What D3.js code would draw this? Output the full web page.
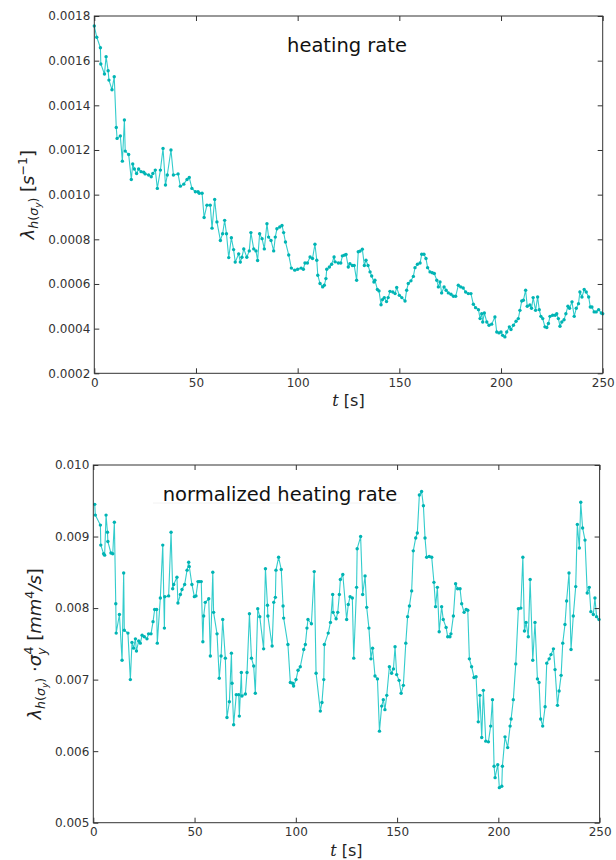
<!DOCTYPE html>
<html>
<head>
<meta charset="utf-8">
<script src="https://cdn.jsdelivr.net/npm/d3@7"></script>
<style>
  body { margin: 0; background: #fff; }
  svg text { font-family: "DejaVu Sans", sans-serif; }
</style>
</head>
<body>
<div id="chart"></div>
<script>
const xTicks = [0, 50, 100, 150, 200, 250];
const rateTicks = [0.0002, 0.0004, 0.0006, 0.0008, 0.001, 0.0012, 0.0014, 0.0016, 0.0018];
const normTicks = [0.005, 0.006, 0.007, 0.008, 0.009, 0.01];

// heating rate, [t (s), value in 1e-4 s^-1]
const heatingRate = [
  [0,17.55],[1.2,17.05],[3,16.58],[3.2,15.85],[5,15.4],[5.8,16.18],[6.8,15.55],[7.2,15.13],[8.7,14.7],[9.8,15.28],
  [10.8,13.01],[11.2,12.52],[12.8,12.63],[13.8,11.5],[14.8,13.34],[15.2,11.95],[16.9,11.8],[18.2,10.68],[18.9,11.37],[19.7,11.15],
  [20.8,10.95],[21.8,11.15],[23,11.03],[24.3,11.0],[25,10.93],[26.7,10.88],[28,10.8],[28.8,10.95],[30,11.1],[31,10.28],
  [32.5,11.1],[33.8,12.07],[35,10.43],[35.9,10.88],[37.7,12.0],[38.9,10.88],[41.2,10.93],[42.3,10.38],[44,10.47],[45.6,10.68],
  [46.7,10.77],[48,10.28],[49.7,10.13],[51,10.13],[51.6,10.06],[53,10.06],[54,8.98],[55.4,9.53],[57,9.53],[57.9,8.5],
  [59.2,9.78],[60.3,8.78],[62,7.95],[63.1,8.25],[64.1,8.85],[65,8.25],[66.1,7.18],[67.4,8.07],[68.5,7.54],[69.3,6.98],
  [71,7.35],[71.8,6.98],[72.6,7.2],[73.5,7.57],[75,7.2],[76.2,7.48],[77,8.3],[78.4,7.57],[79.5,7.48],[80.3,7.05],
  [81.3,8.25],[82.5,8.03],[83.6,7.57],[84.9,8.7],[85.7,8.1],[86.9,7.95],[88.2,7.48],[89,8.1],[89.8,8.47],[91.2,8.55],
  [92.3,8.62],[93.1,8.3],[94,7.88],[95.6,7.3],[96.9,6.71],[98.6,6.62],[100,6.66],[101.7,6.71],[102.8,6.66],[103.6,6.94],
  [104.8,6.94],[106.1,7.21],[107.3,7.14],[108.5,7.78],[109.4,7.06],[109.9,6.39],[111,6.02],[112.3,5.87],[113.1,5.94],[113.9,6.24],
  [114.3,6.66],[115.6,6.76],[116.7,6.88],[117.9,7.21],[118.4,6.99],[120,6.94],[121.2,6.94],[122,7.26],[123,7.29],[123.8,7.32],
  [124.9,6.76],[125.7,6.91],[126.9,6.83],[127.8,6.83],[129,6.17],[129.8,7.44],[130.6,7.47],[131.8,7.56],[132.8,6.83],[133.6,7.06],
  [134.6,6.83],[135.6,6.54],[136.4,6.36],[137.5,6.09],[138,6.17],[139.2,5.75],[140,5.69],[141,5.07],[141.7,5.3],[142.6,5.39],
  [143.7,5.21],[144.5,5.39],[145.4,5.67],[146.8,5.64],[147.9,5.57],[148.7,5.84],[150,5.49],[151.2,5.39],[152.8,5.24],[153.6,5.72],
  [154.4,6.02],[155.7,6.14],[156.9,6.34],[157.7,6.73],[158.9,6.88],[160.2,6.94],[161,7.33],[162.1,7.33],[163.1,7.14],[163.9,6.73],
  [165.1,6.54],[166.2,6.5],[167.2,6.47],[168.4,6.17],[169.2,5.87],[170,6.09],[170.8,5.6],[172,5.87],[173,5.72],[174.1,5.6],
  [175.4,5.54],[176.6,5.45],[177.7,5.45],[179,5.94],[180.2,5.87],[181.4,5.82],[182.6,5.64],[183.9,5.57],[185.2,5.57],[186.4,5.09],
  [187.5,4.94],[188.9,4.85],[189.7,4.45],[190.5,4.67],[191,4.3],[191.8,4.7],[193,4.3],[194.1,4.15],[195.4,4.2],[197,4.52],
  [197.9,3.85],[199,3.81],[200,3.85],[200.8,3.7],[201.9,3.63],[202.8,3.85],[204.1,4.08],[204.9,3.96],[206.1,4.15],[207.4,4.33],
  [208.5,4.45],[209.3,4.82],[210.2,5.24],[211,5.27],[212.1,5.72],[212.9,5.0],[214.2,5.06],[215,4.91],[215.8,5.39],[217,4.82],
  [218,5.42],[218.8,4.85],[219.6,4.55],[220.5,4.45],[221.6,4.08],[222.5,4.05],[223.3,4.23],[224.1,4.55],[225.4,4.6],[226.6,4.6],
  [227.4,4.67],[228.2,4.45],[229,4.11],[229.9,4.3],[231,4.4],[231.9,4.67],[232.9,5.0],[233.7,4.91],[234.9,5.2],[236,4.55],
  [237,4.91],[238.1,5.12],[238.8,5.64],[239.8,5.42],[240.9,5.75],[241.9,5.64],[243.1,5.42],[243.9,4.97],[244.7,4.97],[245.8,4.75],
  [246.8,4.75],[248,4.85],[249.3,4.7],[250,4.67]
];

// normalized heating rate, [t (s), value in 1e-3 mm^4/s]
const normalizedRate = [
  [0.7,9.45],[1,9.3],[3.5,9.16],[3.7,8.88],[5.1,8.76],[5.6,8.74],[6.3,9.3],[7,9.06],[7.2,8.93],[8.7,8.77],
  [9.6,8.76],[10.4,9.2],[11.1,8.06],[11.3,7.65],[12.9,7.91],[14.2,7.27],[15,8.49],[15.3,7.69],[17.1,7.65],[18.3,7.0],
  [19.1,7.52],[19.9,7.44],[20.8,7.57],[21.3,7.4],[22.4,7.54],[23.2,7.51],[24.1,7.62],[25.2,7.6],[26.5,7.57],[27.3,7.64],
  [28.5,7.64],[29.5,7.81],[30.3,7.98],[31.3,7.98],[31.6,7.51],[33.1,8.14],[34.3,8.88],[35.1,7.72],[35.3,8.16],[37.2,8.17],
  [38.4,9.06],[39.2,8.27],[39.7,8.33],[41.3,8.43],[41.8,8.07],[43,8.19],[43.8,8.26],[45.1,8.33],[46.3,8.53],[47.1,8.64],
  [47.4,8.58],[48.7,8.33],[49.9,8.16],[50.7,8.17],[51.7,8.37],[52.4,8.37],[53.3,8.37],[54.1,7.53],[54.5,7.89],[55.3,8.08],
  [57,8.13],[57.8,7.33],[59,8.5],[59.4,7.94],[61.1,7.64],[62.2,7.02],[63.1,7.33],[63.9,7.84],[65.2,7.3],[66,6.47],
  [67.2,6.69],[68.2,7.37],[68.5,6.95],[69.3,6.37],[70.6,6.79],[71.8,6.79],[72.1,6.49],[73.1,7.1],[73.4,6.77],[75.1,6.8],
  [75.9,7.1],[77.1,7.92],[78.1,7.3],[79.2,7.19],[80,6.81],[81.2,7.99],[82.2,7.88],[84.1,7.43],[85,8.55],[86,8.04],
  [86.2,7.89],[88.3,7.47],[89.1,8.08],[89.9,8.15],[90.2,8.53],[91.5,8.71],[92.8,8.54],[93.7,8.03],[94,7.86],[96.1,7.49],
  [97.3,6.96],[98.4,6.95],[98.9,6.91],[100.1,7.0],[101.1,7.13],[102.2,7.18],[103.9,7.42],[104.7,7.49],[105.5,7.72],[106,7.84],
  [107.7,7.78],[109.1,8.51],[110,7.09],[112.1,6.56],[112.9,6.68],[113.8,7.0],[114.1,7.49],[116,7.65],[117.1,7.8],[118.2,8.19],
  [118.4,7.94],[119.9,7.85],[120.7,7.94],[121.5,8.19],[122,8.4],[123.2,8.47],[125.1,7.84],[125.9,8.05],[126.8,8.16],[127.9,8.14],
  [128.6,7.3],[130,8.29],[130.3,8.83],[132,9.0],[133,8.19],[134.2,8.45],[135,8.01],[136.1,7.72],[137.1,7.29],[137.9,7.44],
  [139.1,7.05],[140.3,7.01],[141.3,6.28],[142.4,6.63],[143.2,6.72],[144,6.58],[144.9,6.78],[146.2,7.18],[147.3,7.09],[148.2,7.15],
  [149,7.46],[149.8,7.07],[151,6.99],[152,6.81],[153.1,6.92],[154.3,7.51],[155.2,7.88],[156.1,8.03],[157.2,8.24],[158,8.8],
  [159.2,8.98],[160,9.05],[161,9.58],[162.1,9.63],[163,9.43],[163.8,8.98],[164.6,8.71],[165.9,8.72],[167.1,8.71],[168.2,8.36],
  [169,8.02],[169.9,8.29],[170.8,7.67],[172,8.02],[172.8,7.84],[174.2,7.73],[175,7.6],[176.1,7.6],[176.6,7.64],[177.8,7.89],
  [178.9,8.34],[179.9,8.27],[181.1,8.27],[181.9,8.06],[183.1,7.94],[184.1,7.98],[184.9,7.97],[185.7,7.29],[186.8,7.18],[188,7.03],
  [189,7.04],[190.1,6.41],[190.9,6.78],[191.8,6.19],[192.6,6.85],[193.8,6.14],[195.1,6.13],[196.2,6.35],[197.1,6.72],[197.9,5.79],
  [198.4,5.63],[199.7,5.81],[200.5,5.49],[201.7,5.51],[202,5.79],[203.3,6.2],[204.6,6.05],[205.8,6.35],[206.3,6.45],[207.4,6.72],
  [208.6,7.22],[209.9,7.99],[211.1,8.0],[212.1,8.71],[212.9,7.68],[213.7,7.8],[214.8,7.6],[215.7,8.4],[217,7.27],[218.1,7.8],
  [219.3,7.01],[220.1,6.96],[220.9,6.45],[221.9,6.35],[223.1,6.62],[223.9,7.23],[225.1,7.29],[226,7.35],[227.2,7.43],[228,7.14],
  [229.2,6.64],[230,6.84],[231,7.06],[231.8,7.51],[232.9,7.77],[233.7,8.1],[234.9,8.49],[235.9,7.42],[237,7.89],[238.2,8.3],
  [239,9.17],[240,8.84],[240.7,9.48],[241.6,9.12],[242.8,8.95],[243.9,8.21],[244.9,8.29],[245.7,7.95],[246.9,7.91],[247.7,8.14],
  [248.5,7.88],[249.7,7.84]
];

const lineColor = "#00bfbf";
const ink = "#333";

const svg = d3.select("#chart").append("svg")
  .attr("width", 616)
  .attr("height", 860);

function drawPanel({ box, yDomain, yTicks, yFormat, data, unit, title, titleBox, yLabel }) {
  const x = d3.scaleLinear().domain([0, 250]).range([box.left, box.right]);
  const y = d3.scaleLinear().domain(yDomain).range([box.bottom, box.top]);
  const g = svg.append("g");

  const line = d3.line()
    .x((d) => x(d[0]))
    .y((d) => y(d[1] * unit));

  g.append("path")
    .datum(data)
    .attr("fill", "none")
    .attr("stroke", lineColor)
    .attr("stroke-opacity", 0.8)
    .attr("stroke-width", 1.1)
    .attr("d", line);

  g.selectAll("circle.pt")
    .data(data)
    .join("circle")
    .attr("class", "pt")
    .attr("cx", (d) => x(d[0]))
    .attr("cy", (d) => y(d[1] * unit))
    .attr("r", 1.7)
    .attr("fill", "#00b4b4");

  if (titleBox) {
    // white box behind the title, only a faint bottom edge shows
    g.append("rect")
      .attr("x", titleBox.x)
      .attr("y", titleBox.y)
      .attr("width", titleBox.w)
      .attr("height", titleBox.h)
      .attr("fill", "#fff");
    g.append("line")
      .attr("x1", titleBox.x)
      .attr("x2", titleBox.x + titleBox.w)
      .attr("y1", titleBox.y + titleBox.h)
      .attr("y2", titleBox.y + titleBox.h)
      .attr("stroke", "#f2f2f2");
  }

  g.append("text")
    .attr("x", title.x)
    .attr("y", title.y)
    .attr("text-anchor", "middle")
    .attr("font-size", 19.5)
    .attr("fill", "#111")
    .text(title.text);

  // axes: ticks point inwards on all four sides
  const bottomAxis = g.append("g")
    .attr("transform", `translate(0,${box.bottom})`)
    .call(d3.axisBottom(x).tickValues(xTicks).tickSizeInner(-5).tickSizeOuter(0).tickPadding(5));
  const leftAxis = g.append("g")
    .attr("transform", `translate(${box.left},0)`)
    .call(d3.axisLeft(y).tickValues(yTicks).tickFormat(yFormat).tickSizeInner(-5).tickSizeOuter(0).tickPadding(4));
  const topAxis = g.append("g")
    .attr("transform", `translate(0,${box.top})`)
    .call(d3.axisTop(x).tickValues(xTicks).tickFormat("").tickSizeInner(-5).tickSizeOuter(0));
  const rightAxis = g.append("g")
    .attr("transform", `translate(${box.right},0)`)
    .call(d3.axisRight(y).tickValues(yTicks).tickFormat("").tickSizeInner(-5).tickSizeOuter(0));

  [bottomAxis, leftAxis, topAxis, rightAxis].forEach((a) => {
    a.select(".domain").remove();
    a.selectAll(".tick line").attr("stroke", ink);
    a.selectAll("text")
      .attr("font-family", '"DejaVu Sans", sans-serif')
      .attr("font-size", 12)
      .attr("fill", ink);
  });

  g.append("rect")
    .attr("x", box.left)
    .attr("y", box.top)
    .attr("width", box.right - box.left)
    .attr("height", box.bottom - box.top)
    .attr("fill", "none")
    .attr("stroke", ink)
    .attr("stroke-width", 1);

  // x label: t [s]
  const xl = g.append("text")
    .attr("x", (box.left + box.right) / 2)
    .attr("y", box.bottom + 33)
    .attr("text-anchor", "middle")
    .attr("font-size", 16)
    .attr("fill", "#222");
  xl.append("tspan")
    .attr("font-family", '"DejaVu Serif", serif')
    .attr("font-style", "italic")
    .text("t");
  xl.append("tspan").text(" [s]");

  // y label built from pieces
  const yl = g.append("text")
    .attr("transform", `translate(${yLabel.x},${(box.top + box.bottom) / 2}) rotate(-90)`)
    .attr("text-anchor", "middle")
    .attr("font-family", '"DejaVu Serif", serif')
    .attr("fill", "#222");
  yLabel.parts.forEach((p) => {
    yl.append("tspan")
      .attr("font-size", p.size || 18)
      .attr("font-style", p.italic ? "italic" : "normal")
      .attr("dy", p.dy || 0)
      .attr("dx", p.dx || 0)
      .text(p.t);
  });
}

drawPanel({
  box: { left: 94.3, right: 602.7, top: 16, bottom: 373.3 },
  yDomain: [0.0002, 0.0018],
  yTicks: rateTicks,
  yFormat: d3.format(".4f"),
  data: heatingRate,
  unit: 1e-4,
  title: { text: "heating rate", x: 347, y: 52 },
  yLabel: {
    x: 34,
    parts: [
      { t: "λ", italic: true },
      { t: "h", italic: true, size: 12.6, dy: 4 },
      { t: "(", size: 12.6 },
      { t: "σ", italic: true, size: 12.6 },
      { t: "y", italic: true, size: 9, dy: 3 },
      { t: ")", size: 12.6, dy: -3 },
      { t: " [", dy: -4 },
      { t: "s", italic: true },
      { t: "−1", size: 12.6, dy: -7 },
      { t: "]", dy: 7 },
    ],
  },
});

drawPanel({
  box: { left: 93.3, right: 599.6, top: 465, bottom: 822.7 },
  yDomain: [0.005, 0.01],
  yTicks: normTicks,
  yFormat: d3.format(".3f"),
  data: normalizedRate,
  unit: 1e-3,
  title: { text: "normalized heating rate", x: 280, y: 501 },
  titleBox: { x: 153, y: 478, w: 247, h: 25 },
  yLabel: {
    x: 41,
    parts: [
      { t: "λ", italic: true },
      { t: "h", italic: true, size: 12.6, dy: 4 },
      { t: "(", size: 12.6 },
      { t: "σ", italic: true, size: 12.6 },
      { t: "y", italic: true, size: 9, dy: 3 },
      { t: ")", size: 12.6, dy: -3 },
      { t: " ·", dy: -4 },
      { t: "σ", italic: true },
      { t: "y", italic: true, size: 12.6, dy: 5 },
      { t: "4", size: 12.6, dx: -7, dy: -13 },
      { t: " [", dy: 8 },
      { t: "mm", italic: true },
      { t: "4", size: 12.6, dy: -7 },
      { t: "/", italic: true, dy: 7 },
      { t: "s", italic: true },
      { t: "]" },
    ],
  },
});
</script>
</body>
</html>
